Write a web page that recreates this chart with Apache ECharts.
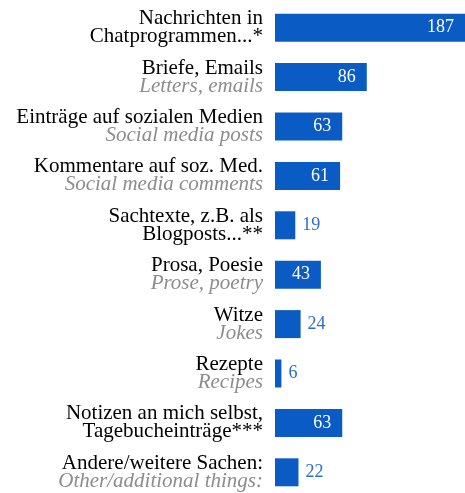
<!DOCTYPE html>
<html><head><meta charset="utf-8">
<script src="https://cdn.jsdelivr.net/npm/echarts@6/dist/echarts.min.js"></script>
<style>html,body{margin:0;padding:0;background:#fff}#c{width:465px;height:493px}</style>
</head><body><div id="c"></div>
<script>
const germanLabels = ["Nachrichten in\nChatprogrammen...*","Briefe, Emails","Einträge auf sozialen Medien","Kommentare auf soz. Med.","Sachtexte, z.B. als\nBlogposts...**","Prosa, Poesie","Witze","Rezepte","Notizen an mich selbst,\nTagebucheinträge***","Andere/weitere Sachen:"];
const englishLabels = ["","Letters, emails","Social media posts","Social media comments","","Prose, poetry","Jokes","Recipes","","Other/additional things:"];
const values = [187,86,63,61,19,43,24,6,63,22];
const insideThreshold = 40;

const cats = germanLabels.map((g,i)=>i+'');
const chart = echarts.init(document.getElementById('c'));
const font = 'Liberation Serif';
chart.setOption({
  animation:false,
  textStyle:{fontFamily:font},
  grid:{left:275,width:190,top:3,height:494,outerBoundsMode:'none',containLabel:false},
  xAxis:{type:'value',min:0,max:178,show:false},
  yAxis:{type:'category',data:cats,inverse:true,
    axisLine:{show:false},axisTick:{show:false},splitLine:{show:false},
    axisLabel:{margin:12,align:'right',fontFamily:font,fontSize:21,color:'#000',
      formatter:(v)=>{const i=+v;const de=germanLabels[i].split('\n').map(s=>'{de|'+s+'}').join('\n');
        return englishLabels[i]?de+'\n{en|'+englishLabels[i]+'}':de;},
      rich:{de:{fontFamily:font,fontSize:21,lineHeight:18,color:'#000',align:'right'},
            en:{fontFamily:font,fontSize:21,lineHeight:18,color:'#8c8c8c',fontStyle:'italic',align:'right'}}
    }},
  series:[{type:'bar',barWidth:28,
    data:values.map(v=>({value:v,label:v>=insideThreshold?
      {show:true,position:'insideRight',distance:11,color:'#fff'}:
      {show:true,position:'right',distance:7,color:'#2a6fd0'}})),
    itemStyle:{color:'#0a5cc4'},
    label:{fontFamily:font,fontSize:18}
  }]
});
</script></body></html>
